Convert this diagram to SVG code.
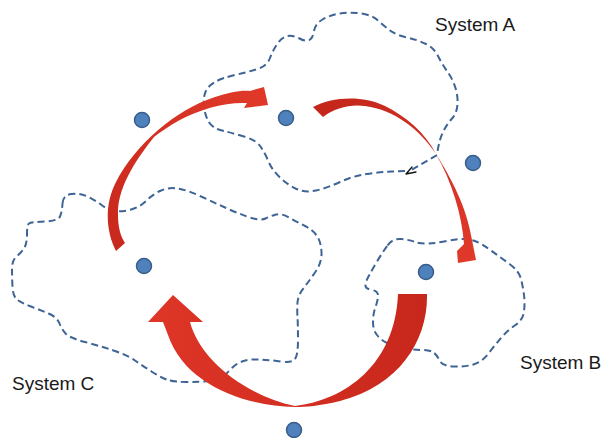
<svg xmlns="http://www.w3.org/2000/svg" width="606" height="438" viewBox="0 0 606 438">
  <defs>
    <style>
      .boundary { fill: none; stroke: #3E6496; stroke-width: 2; stroke-dasharray: 7 4; stroke-linecap: butt; }
      .label { font-family: "Liberation Sans", Arial, sans-serif; font-size: 19px; fill: #1a1a1a; }
      .dot { fill: #4F81BD; stroke: #385D8A; stroke-width: 1.5; }
      .tick { fill: none; stroke: #111; stroke-width: 1.3; stroke-linecap: round; stroke-linejoin: round; }
    </style>
    <linearGradient id="grad-left" gradientUnits="userSpaceOnUse" x1="118" y1="250" x2="268" y2="95">
      <stop offset="0" stop-color="#C8281D"/>
      <stop offset="1" stop-color="#E0392A"/>
    </linearGradient>
    <linearGradient id="grad-right" gradientUnits="userSpaceOnUse" x1="315" y1="110" x2="465" y2="262">
      <stop offset="0" stop-color="#C4261B"/>
      <stop offset="1" stop-color="#E0392A"/>
    </linearGradient>
    <linearGradient id="grad-bottom" gradientUnits="userSpaceOnUse" x1="427" y1="300" x2="150" y2="300">
      <stop offset="0" stop-color="#C8271C"/>
      <stop offset="1" stop-color="#DE3627"/>
    </linearGradient>
  </defs>

  <rect width="606" height="438" fill="#ffffff"/>

  <!-- System A -->
  <g id="system-a">
    <path class="boundary" d="M405,171 L392.5,171.5 Q380,172 366.5,174 Q353,176 340,182 Q327,188 316,190.5 Q305,193 296.5,189 Q288,185 280,177.5 Q272,170 268.5,161.5 Q265,153 260.5,146.5 Q256,140 244,136.5 Q232,133 222,130.5 Q212,128 208.5,121.5 Q205,115 204,106.5 Q203,98 205.5,92 Q208,86 215,82 Q222,78 235,75 Q248,72 257.5,69 Q267,66 270,58 Q273,50 277.5,43.5 Q282,37 287.5,36 Q293,35 299.5,38.5 Q306,42 309.5,40 Q313,38 314,31 Q315,24 322.5,19.5 Q330,15 340,13.5 Q350,12 361,13.5 Q372,15 378,20.5 Q384,26 390,30.5 Q396,35 407,37.5 Q418,40 426,44 Q434,48 438,56 Q442,64 447,71 Q452,78 455,86.5 Q458,95 457.5,104 Q457,113 452,118.5 Q447,124 443,132 Q439,140 437,155 L420,165 L408,172"/>
    <path class="tick" d="M412,167 L406,174 L416,172"/>
    <text class="label" x="435" y="31">System A</text>
  </g>

  <!-- System B -->
  <g id="system-b">
    <path class="boundary" d="M387.5,245.5 Q393,238 401.5,239 Q410,240 415,242 Q420,244 428.5,243.5 Q437,243 447,241 Q457,239 463.5,239 Q470,239 476,241.5 Q482,244 491,250.5 Q500,257 509.5,264 Q519,271 521,279 Q523,287 524,295 Q525,303 524,311.5 Q523,320 515.5,325 Q508,330 501.5,337.5 Q495,345 488.5,353.5 Q482,362 473.5,364.5 Q465,367 453.5,366.5 Q442,366 439.5,360.5 Q437,355 433.5,352.5 Q430,350 421.5,350 Q413,350 403,348 Q393,346 387,343 Q381,340 377,335 Q373,330 373,322 Q373,314 375.5,307 Q378,300 378,295.5 Q378,291 372,290 Q366,289 365.5,286 Q365,283 368.5,276.5 Q372,270 377,261.5 Q382,253 387.5,245.5 Z"/>
    <text class="label" x="520" y="369">System B</text>
  </g>

  <!-- System C -->
  <g id="system-c">
    <path class="boundary" d="M62.5,203.5 Q63,195 71.5,194 Q80,193 87.5,196.5 Q95,200 101.5,205 Q108,210 115,211 Q122,212 131,209.5 Q140,207 146,201 Q152,195 160,191 Q168,187 177.5,188.5 Q187,190 200,196 Q213,202 225,207.5 Q237,213 248.5,217 Q260,221 265.5,218.5 Q271,216 276,214.5 Q281,213 289,217.5 Q297,222 305,226 Q313,230 317,236 Q321,242 321.5,252 Q322,262 316,271 Q310,280 304,287.5 Q298,295 297.5,302.5 Q297,310 297.5,317.5 Q298,325 298,340 Q298,355 295,359 Q292,363 281,361.5 Q270,360 260,359.5 Q250,359 243.5,361 Q237,363 232.5,367.5 Q228,372 224,376 Q220,380 210,381 Q200,382 186.5,382 Q173,382 166.5,379.5 Q160,377 151.5,371.5 Q143,366 135,360.5 Q127,355 113.5,350.5 Q100,346 85,342 Q70,338 66,334 Q62,330 59.5,323.5 Q57,317 48.5,313.5 Q40,310 31,306.5 Q22,303 17.5,300 Q13,297 12.5,287 Q12,277 12,268.5 Q12,260 17,256 Q22,252 24.5,247.5 Q27,243 27,234 Q27,225 29,223.5 Q31,222 44.5,221.5 Q58,221 60,216.5 Q62,212 62.5,203.5 Z"/>
    <text class="label" x="12" y="390">System C</text>
  </g>

  <!-- Curved transfer arrows -->
  <g id="connectors">
    <path id="arrow-c-to-a" fill="url(#grad-left)" d="M116,251 C106,232 104,205 116,182 C135,145 175,110 215,97 C228,93 240,90 250,91 L264,87 L268,105 L244,108 L247,103 C225,102 200,109 178,121 C168,127 160,132 154,137 C140,155 117,185 118,215 C118,228 121,237 125,243 Z"/>
    <path id="arrow-a-to-b" fill="url(#grad-right)" d="M313,107 C330,98 360,94 385,106 C405,116 425,132 436,154 C452,180 466,205 472,240 L476,260 L458,263 L457,251 L464,244 C462,215 452,182 436,154 C420,130 395,110 365,106 C350,104 335,108 323,117 Z"/>
    <path id="arrow-b-to-c" fill="url(#grad-bottom)" d="M427,294 C428,340 400,385 340,401 C320,406 305,407 295,407 C245,406 185,385 168,335 L163,322 L148,322 L173,295 L203,322 L190,322 C200,360 245,395 295,406 C345,400 395,365 398,294 Z"/>
  </g>

  <!-- Points -->
  <g id="point-1"><circle class="dot" cx="142" cy="120" r="7.5"/></g>
  <g id="point-2"><circle class="dot" cx="286" cy="118" r="7.5"/></g>
  <g id="point-3"><circle class="dot" cx="473" cy="163" r="7.5"/></g>
  <g id="point-4"><circle class="dot" cx="144" cy="266" r="7.5"/></g>
  <g id="point-5"><circle class="dot" cx="426" cy="272" r="7.5"/></g>
  <g id="point-6"><circle class="dot" cx="294" cy="430" r="7.5"/></g>
</svg>
